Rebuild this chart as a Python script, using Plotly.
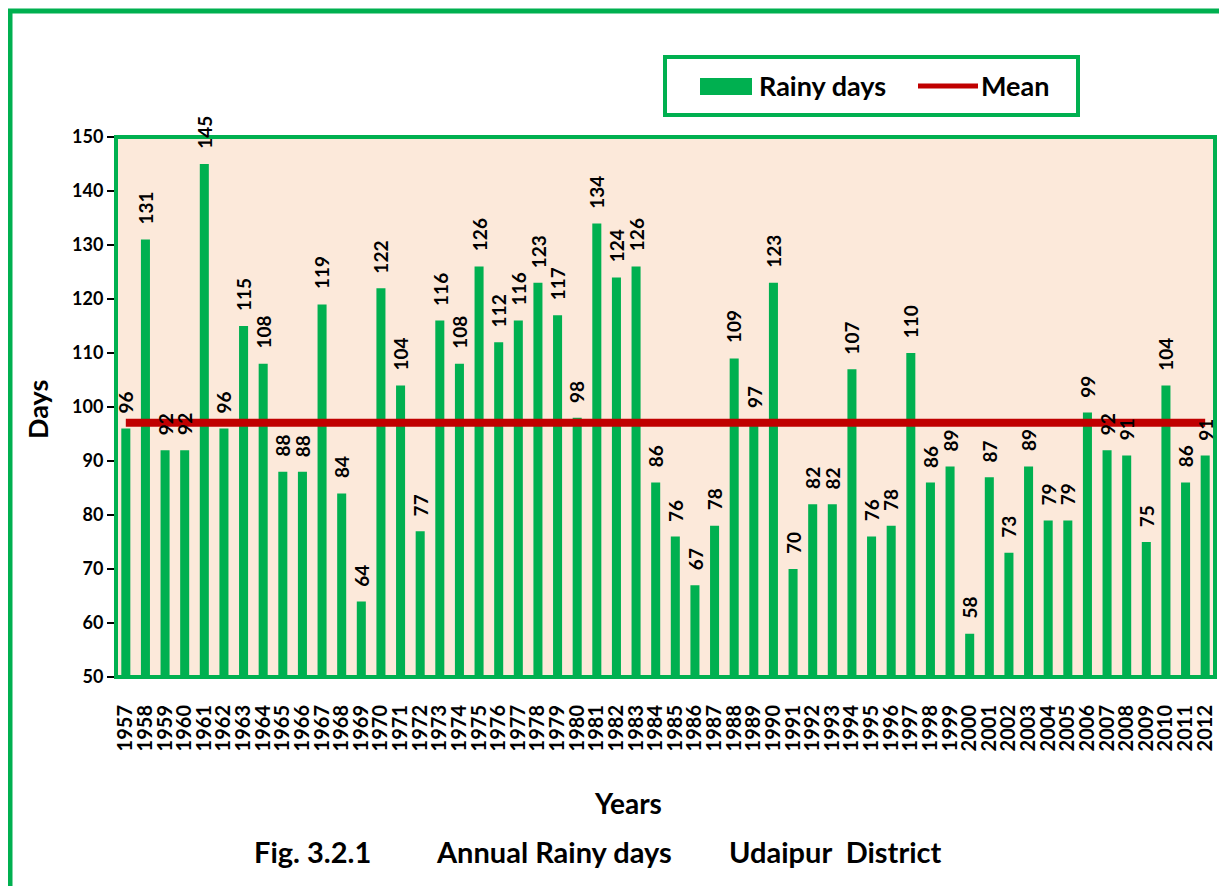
import plotly.graph_objects as go

# ---- data ----
years = [str(y) for y in range(1957, 2013)]
rainy_days = [96, 131, 92, 92, 145, 96, 115, 108, 88, 88, 119, 84, 64, 122, 104, 77,
              116, 108, 126, 112, 116, 123, 117, 98, 134, 124, 126, 86, 76, 67, 78, 109,
              97, 123, 70, 82, 82, 107, 76, 78, 110, 86, 89, 58, 87, 73, 89, 79,
              79, 99, 92, 91, 75, 104, 86, 91]
mean_days = 97.1
mean_line = [mean_days] * len(years)
y_ticks = [50, 60, 70, 80, 90, 100, 110, 120, 130, 140, 150]

FONT = "Lato"
GREEN = "#00B050"
RED = "#C00000"

# The page body adds an 8px margin, so the figure is drawn 8px right/down.
OFF = 8
W, H = 1227 - OFF, 886 - OFF
PLOT_L, PLOT_R, PLOT_T, PLOT_B = 116, 1215, 137, 677   # page pixels of the plot area
L = PLOT_L - OFF
T = PLOT_T - OFF
R = (W + OFF) - PLOT_R
B = (H + OFF) - PLOT_B
PW, PH = PLOT_R - PLOT_L, PLOT_B - PLOT_T


def px(x):
    return (x - PLOT_L) / PW


def py(y):
    return (PLOT_B - y) / PH


fig = go.Figure()
fig.add_trace(go.Bar(x=years, y=rainy_days, name="Rainy days",
                     marker=dict(color=GREEN, line=dict(width=0))))
fig.add_trace(go.Scatter(x=years, y=mean_line, name="Mean", mode="lines",
                         line=dict(color=RED, width=8)))

bold = dict(family=FONT, color="black", weight="bold")

annotations = []
for i, v in enumerate(rainy_days):
    # category axis: annotation x given as the category's serial number
    annotations.append(dict(x=i, y=v, xref="x", yref="y", text=str(v), showarrow=False,
                            textangle=-90, yanchor="bottom", xanchor="center", yshift=13,
                            font=dict(size=19, **bold)))

# axis titles and caption
annotations += [
    dict(x=px(37), y=py(410), xref="paper", yref="paper", text="Days", showarrow=False,
         xanchor="center", yanchor="middle", textangle=-90, font=dict(size=27, **bold)),
    dict(x=px(628), y=py(803), xref="paper", yref="paper", text="Years", showarrow=False,
         xanchor="center", yanchor="middle", font=dict(size=28, **bold)),
    dict(x=px(312), y=py(852), xref="paper", yref="paper", text="Fig. 3.2.1", showarrow=False,
         xanchor="center", yanchor="middle", font=dict(size=29, **bold)),
    dict(x=px(554), y=py(852), xref="paper", yref="paper", text="Annual Rainy days",
         showarrow=False, xanchor="center", yanchor="middle", font=dict(size=29, **bold)),
    dict(x=px(835), y=py(852), xref="paper", yref="paper", text="Udaipur\u00a0\u00a0District",
         showarrow=False, xanchor="center", yanchor="middle", font=dict(size=29, **bold)),
    # legend texts
    dict(x=px(757), y=py(86), xref="paper", yref="paper", text="Rainy days", showarrow=False,
         xanchor="left", yanchor="middle", font=dict(size=27, **bold)),
    dict(x=px(979), y=py(86), xref="paper", yref="paper", text="Mean", showarrow=False,
         xanchor="left", yanchor="middle", font=dict(size=27, **bold)),
]

shapes = [
    # outer green frame
    dict(type="rect", xref="paper", yref="paper", x0=px(10), x1=px(1240), y0=py(900), y1=py(11),
         line=dict(color=GREEN, width=5), layer="below"),
    # plot area border
    dict(type="rect", xref="paper", yref="paper", x0=0, x1=1, y0=0, y1=1,
         line=dict(color=GREEN, width=4), layer="above"),
    # legend box
    dict(type="rect", xref="paper", yref="paper", x0=px(665), x1=px(1078), y0=py(115), y1=py(57),
         line=dict(color=GREEN, width=4), fillcolor="white"),
    # legend swatch
    dict(type="rect", xref="paper", yref="paper", x0=px(700), x1=px(752), y0=py(95), y1=py(78),
         line=dict(width=0), fillcolor=GREEN),
    # legend line
    dict(type="line", xref="paper", yref="paper", x0=px(918), x1=px(978), y0=py(86), y1=py(86),
         line=dict(color=RED, width=5)),
]

fig.update_layout(
    width=W, height=H,
    margin=dict(l=L, r=R, t=T, b=B),
    paper_bgcolor="white",
    plot_bgcolor="#FCE9DA",
    showlegend=False,
    bargap=0.54,
    annotations=annotations,
    shapes=shapes,
    font=dict(family=FONT, color="black"),
)
fig.update_xaxes(type="category", range=[-0.5, len(years) - 0.5], autorange=False,
                 tickmode="array", tickvals=years, ticktext=years,
                 tickangle=-90, showgrid=False, zeroline=False,
                 showline=True, linecolor="black", linewidth=2,
                 ticks="", ticklabelstandoff=18,
                 tickfont=dict(size=20, **bold))
fig.update_yaxes(range=[50, 150], autorange=False, tickvals=y_ticks, showgrid=False,
                 zeroline=False, showline=True, linecolor="black", linewidth=2,
                 ticks="outside", ticklen=7, tickwidth=2, tickcolor="black",
                 tickfont=dict(size=18, **bold))

fig.write_html("out.html")
